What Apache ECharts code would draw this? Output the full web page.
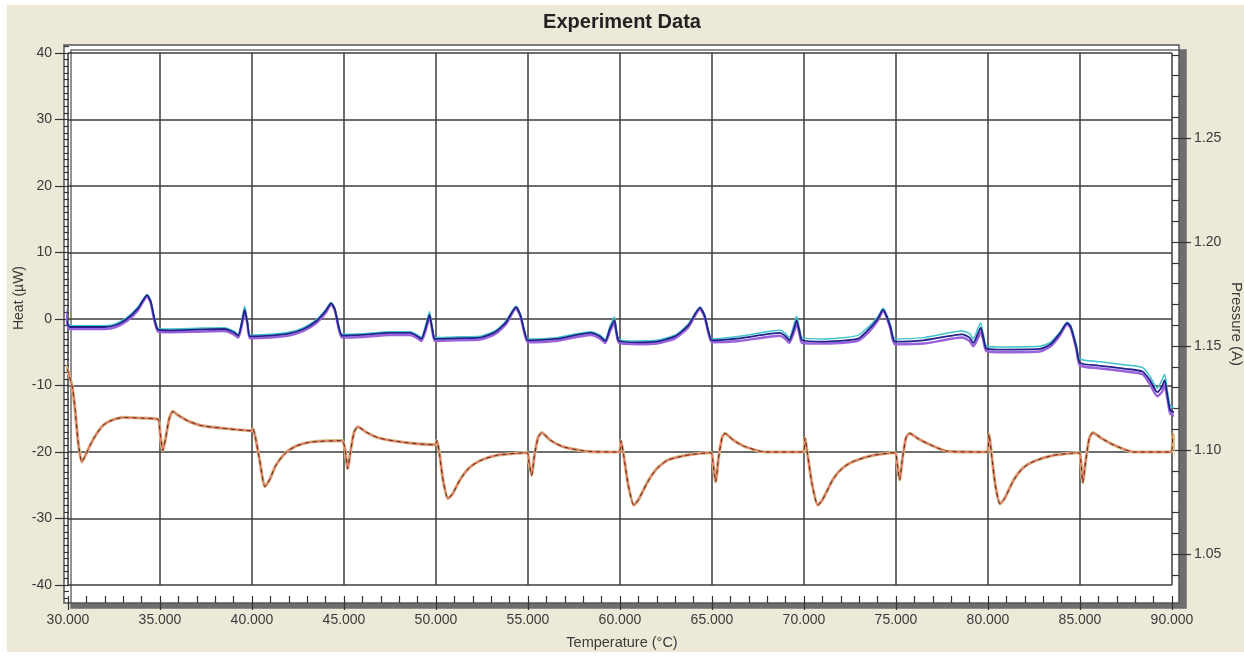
<!DOCTYPE html>
<html><head><meta charset="utf-8">
<script src="https://cdn.jsdelivr.net/npm/echarts@6/dist/echarts.min.js"></script>
<style>html,body{margin:0;padding:0;background:#fff;}#c{width:1244px;height:656px;}</style>
</head><body><div id="c"></div>
<script>
// ---------- tick labels ----------
const tempTicks = [30, 35, 40, 45, 50, 55, 60, 65, 70, 75, 80, 85, 90];
const heatTicks = [-40, -30, -20, -10, 0, 10, 20, 30, 40];
const pressureTicks = [1.05, 1.10, 1.15, 1.20, 1.25];

// ---------- upper group (three overlapping runs) ----------
const upperT = [
  29.75,29.85,29.95,30.1,31,32,32.6,33.2,33.8,34.3,34.5,34.7,34.9,35.5,37,38.5,39.0,39.25,39.45,39.6,39.75,39.9,
  41,42,42.8,43.5,44,44.3,44.5,44.7,44.9,46,47.5,48.6,49.0,49.2,49.45,49.65,49.8,49.95,
  51,52.4,53.2,53.8,54.35,54.6,54.8,55.0,56.5,58.4,58.9,59.2,59.45,59.7,59.8,59.95,
  61,62,63,63.7,64.35,64.6,64.8,65.0,66.5,68.7,69.0,69.2,69.45,69.6,69.75,69.9,
  71,72.9,73.5,74,74.3,74.5,74.7,74.95,76.5,78.6,79.0,79.2,79.45,79.6,79.75,79.9,
  80.5,82.8,83.4,83.9,84.3,84.5,84.8,85.0,86,87.5,88.4,88.8,89.2,89.45,89.6,89.75,89.9,90.1,90.35
];
const heatNavy = [
  3.2,1.5,-0.5,-1.2,-1.2,-1.2,-0.9,0,1.6,3.6,2.6,0,-1.6,-1.7,-1.6,-1.5,-2.0,-2.5,-0.5,1.4,-0.5,-2.6,
  -2.5,-2.2,-1.5,-0.3,1.2,2.4,1.5,-1,-2.5,-2.4,-2.1,-2.1,-2.6,-3.0,-1.2,0.6,-1.5,-3.0,
  -2.9,-2.8,-2,-0.5,1.8,0.5,-1.8,-3.2,-3.0,-2.1,-2.6,-3.3,-1.5,-0.2,-1.8,-3.3,
  -3.5,-3.4,-2.6,-1.0,1.7,0.5,-1.8,-3.2,-2.9,-2.1,-2.6,-3.2,-1.5,-0.2,-1.8,-3.2,
  -3.4,-3.0,-1.6,0,1.4,0.4,-1.2,-3.4,-3.2,-2.3,-2.8,-3.6,-2.2,-1.3,-2.8,-4.4,
  -4.6,-4.5,-3.8,-2.2,-0.6,-1.2,-4.2,-6.6,-7.0,-7.5,-7.9,-9.2,-11.0,-10.2,-9.2,-11.5,-13.7,-14.0,-14.5
];
const heatCyan = [
  3.4,1.7,-0.3,-1.0,-1.0,-1.0,-0.7,0.2,1.8,3.7,2.7,0.2,-1.4,-1.5,-1.4,-1.3,-1.8,-2.3,-0.2,1.9,-0.2,-2.4,
  -2.3,-2.0,-1.3,-0.1,1.4,2.5,1.6,-0.8,-2.3,-2.2,-1.9,-1.9,-2.4,-2.8,-0.8,1.1,-1.2,-2.8,
  -2.7,-2.6,-1.8,-0.3,1.9,0.6,-1.6,-3.0,-2.8,-1.9,-2.4,-3.1,-1.1,0.3,-1.5,-3.1,
  -3.3,-3.2,-2.4,-0.8,1.8,0.6,-1.6,-3.0,-2.6,-1.7,-2.2,-2.8,-0.9,0.4,-1.4,-2.8,
  -3.0,-2.5,-1.2,0.3,1.6,0.6,-0.9,-3.0,-2.8,-1.8,-2.2,-3.0,-1.4,-0.6,-2.3,-4.0,
  -4.2,-4.1,-3.5,-2.0,-0.5,-1.0,-3.8,-6.0,-6.4,-6.9,-7.3,-8.6,-10.4,-9.2,-8.3,-10.8,-13.0,-13.4,-14.0
];
const heatViolet = [
  3.0,1.3,-0.8,-1.5,-1.5,-1.5,-1.2,-0.3,1.3,3.4,2.4,-0.3,-1.9,-2.0,-1.9,-1.8,-2.3,-2.8,-0.9,1.1,-0.8,-2.9,
  -2.8,-2.5,-1.8,-0.6,0.9,2.2,1.3,-1.3,-2.8,-2.7,-2.4,-2.4,-2.9,-3.3,-1.6,0.3,-1.8,-3.3,
  -3.2,-3.1,-2.3,-0.8,1.6,0.3,-2.1,-3.5,-3.3,-2.4,-2.9,-3.6,-1.9,-0.6,-2.1,-3.6,
  -3.8,-3.7,-2.9,-1.3,1.5,0.3,-2.1,-3.5,-3.3,-2.5,-3.0,-3.6,-2.0,-0.8,-2.2,-3.6,
  -3.7,-3.3,-2.0,-0.3,1.2,0.2,-1.5,-3.8,-3.7,-2.8,-3.3,-4.1,-2.9,-2.0,-3.2,-4.8,
  -5.0,-4.9,-4.1,-2.5,-0.8,-1.4,-4.5,-7.0,-7.4,-7.9,-8.3,-9.8,-11.6,-11.0,-10.0,-12.0,-14.2,-14.5,-15.0
];

// ---------- lower group (overlapping runs, drawn in three styles) ----------
const lowerT = [
  29.75,29.95,30.1,30.25,30.4,30.55,30.75,30.95,31.2,31.5,31.9,32.4,33,34,34.9,
  35.0,35.15,35.3,35.5,35.7,36,36.5,37.2,38.3,39.95,
  40.05,40.2,40.4,40.7,40.95,41.3,41.8,42.4,43.2,44.9,
  45.05,45.2,45.35,45.55,45.75,46.2,46.9,48.4,49.95,
  50.05,50.2,50.4,50.65,50.9,51.3,51.8,52.4,53.3,54.95,
  55.05,55.2,55.35,55.55,55.75,56.2,56.9,58.2,59.95,
  60.05,60.2,60.45,60.75,61.0,61.5,62.0,62.6,63.8,64.95,
  65.05,65.2,65.35,65.55,65.7,66.2,66.8,67.9,69.95,
  70.05,70.2,70.45,70.75,71.0,71.6,72.1,72.7,73.75,74.95,
  75.05,75.2,75.35,75.55,75.75,76.2,76.85,77.8,79.95,
  80.05,80.2,80.4,80.65,80.9,81.4,81.9,82.5,83.55,84.95,
  85.05,85.15,85.3,85.5,85.7,86.2,86.8,87.9,89.95,
  90.05,90.15,90.3
];
const heatLower = [
  -6.5,-7.5,-8.8,-10.5,-14,-18.5,-21.5,-20.5,-19,-17.5,-16,-15.2,-14.8,-14.9,-15.1,
  -17,-19.8,-18,-15,-13.9,-14.5,-15.3,-16,-16.4,-16.8,
  -16.5,-18,-21,-25.2,-24.2,-22,-20.2,-19.1,-18.5,-18.3,
  -19.5,-22.5,-20,-17,-16.2,-17,-17.9,-18.6,-18.9,
  -18.3,-20.5,-24.5,-27,-26.3,-24.2,-22.4,-21.3,-20.5,-20.1,
  -21.5,-23.5,-20.5,-17.8,-17.1,-18.2,-19.2,-19.9,-20,
  -18.3,-20.5,-25,-28,-27.2,-24.5,-22.5,-21.2,-20.4,-20.1,
  -21.5,-24.5,-21,-17.8,-17.2,-18.3,-19.2,-20,-20,
  -17.9,-20.5,-25,-28,-27.2,-24,-22.4,-21.4,-20.5,-20.1,
  -21.5,-24.2,-21,-17.8,-17.2,-18,-18.9,-19.9,-20,
  -17.3,-20.5,-25,-27.8,-27,-24.2,-22.4,-21.4,-20.5,-20.1,
  -21.5,-24.6,-21.5,-18,-17.1,-18,-18.9,-20,-20,
  -17.3,-18.5,-23.1
];

const FONT = '"Liberation Sans", Arial, sans-serif';
const TXT = '#3a3a3a';
const TICK = {color: '#333', width: 1.2};
const pairs = (xs, ys) => xs.map((x, i) => [x, ys[i]]);
const hx = g => ({type: 'value', gridIndex: g, min: 0, max: 1, show: false});
const hy = g => ({type: 'value', gridIndex: g, min: 0, max: 1, show: false});
const first = a => a[0], last = a => a[a.length - 1];
const noLine = {show: false, onZero: false};

function line(name, xs, ys, color, width, type, z) {
  return {
    name, type: 'line', xAxisIndex: 1, yAxisIndex: 1, clip: false,
    data: pairs(xs, ys), showSymbol: false, symbol: 'none', smooth: 0.2, z,
    lineStyle: {color, width, type: type || 'solid'}
  };
}

const chart = echarts.init(document.getElementById('c'), null, {renderer: 'canvas'});
chart.setOption({
  animation: false,
  backgroundColor: '#ECE9D8',
  textStyle: {fontFamily: FONT},
  title: {text: 'Experiment Data', left: 'center', top: 12, padding: 0,
    textStyle: {fontFamily: FONT, fontSize: 20, fontWeight: 'bold', color: '#222'}},
  graphic: [
    {type: 'rect', left: 0, top: 0, shape: {width: 1244, height: 5}, style: {fill: '#fff'}, silent: true},
    {type: 'rect', left: 0, top: 0, shape: {width: 7, height: 656}, style: {fill: '#fff'}, silent: true},
    {type: 'rect', left: 0, top: 652, shape: {width: 1244, height: 4}, style: {fill: '#fff'}, silent: true},
    {type: 'text', x: 19, y: 298, rotation: Math.PI / 2,
      style: {text: 'Heat (µW)', fontFamily: FONT, fontSize: 14, fill: TXT, align: 'center', verticalAlign: 'middle'}},
    {type: 'text', x: 1236, y: 324, rotation: -Math.PI / 2,
      style: {text: 'Pressure (A)', fontFamily: FONT, fontSize: 15, fill: TXT, align: 'center', verticalAlign: 'middle'}},
    {type: 'text', x: 622, y: 643,
      style: {text: 'Temperature (°C)', fontFamily: FONT, fontSize: 14.5, fill: TXT, align: 'center', verticalAlign: 'middle'}}
  ],
  grid: [
    {left: 64, right: 65, top: 45, bottom: 53, show: true, backgroundColor: '#fff', borderColor: '#555', borderWidth: 1.5,
      shadowColor: '#6e6e6e', shadowOffsetX: 7, shadowOffsetY: 5, shadowBlur: 0},
    {left: 68, right: 72, top: 53, bottom: 71},
    {left: 68, right: 72, top: 45, bottom: 53},
    {left: 64, right: 65, top: 53, bottom: 71},
    {left: 64, right: 65, top: 46.35, bottom: 57.7},
    {left: 64, right: 65, top: 54.8, bottom: 81.2},
    {left: 64, right: 65, top: 138, bottom: 102}
  ],
  xAxis: [
    hx(0),
    {type: 'value', gridIndex: 1, min: first(tempTicks), max: last(tempTicks), interval: tempTicks[1] - tempTicks[0],
      axisLine: noLine, axisTick: {show: false}, axisLabel: {show: false},
      splitLine: {show: true, lineStyle: {color: '#3c3c3c', width: 1.5}}},
    {type: 'value', gridIndex: 2, position: 'bottom', min: first(tempTicks), max: last(tempTicks), interval: tempTicks[1] - tempTicks[0],
      axisLine: noLine, axisTick: {show: true, length: 7, lineStyle: TICK},
      axisLabel: {show: true, margin: 10, fontSize: 14, color: TXT, fontFamily: FONT, formatter: v => v.toFixed(3)},
      splitLine: {show: false}},
    {type: 'value', gridIndex: 2, position: 'bottom', min: first(tempTicks), max: last(tempTicks), interval: 1,
      axisLine: noLine, axisTick: {show: true, inside: true, length: 7, lineStyle: TICK},
      axisLabel: {show: false}, splitLine: {show: false}},
    hx(3), hx(4), hx(5), hx(6)
  ],
  yAxis: [
    hy(0),
    {type: 'value', gridIndex: 1, min: first(heatTicks), max: last(heatTicks), interval: heatTicks[1] - heatTicks[0],
      axisLine: noLine, axisTick: {show: false}, axisLabel: {show: false},
      splitLine: {show: true, lineStyle: {color: '#3c3c3c', width: 1.5}}},
    hy(2),
    {type: 'value', gridIndex: 3, position: 'left', min: first(heatTicks), max: last(heatTicks), interval: heatTicks[1] - heatTicks[0],
      axisLine: noLine, axisTick: {show: true, length: 9, lineStyle: TICK},
      axisLabel: {show: true, margin: 12, fontSize: 14, color: TXT, fontFamily: FONT},
      splitLine: {show: false}},
    {type: 'value', gridIndex: 4, position: 'left', min: -42, max: 41, interval: 1,
      axisLine: noLine, axisTick: {show: true, inside: true, length: 5, lineStyle: TICK},
      axisLabel: {show: false}, splitLine: {show: false}},
    {type: 'value', gridIndex: 5, position: 'right', min: 1.04, max: 1.29, interval: 0.01,
      axisLine: noLine, axisTick: {show: true, inside: true, length: 7, lineStyle: TICK},
      axisLabel: {show: false}, splitLine: {show: false}},
    {type: 'value', gridIndex: 6, position: 'right', min: first(pressureTicks), max: last(pressureTicks),
      interval: +(pressureTicks[1] - pressureTicks[0]).toFixed(2),
      axisLine: noLine, axisTick: {show: true, length: 12, lineStyle: TICK},
      axisLabel: {show: true, margin: 15, fontSize: 14, color: TXT, fontFamily: FONT, formatter: v => v.toFixed(2)},
      splitLine: {show: false}}
  ],
  series: [
    line('Run C (heat)', lowerT, heatLower, '#cfc682', 3.2, 'solid', 2),
    line('Run B (heat)', lowerT, heatLower, '#e47f72', 2, 'solid', 3),
    line('Run A (heat)', lowerT, heatLower, '#5a2612', 1, [4, 4], 4),
    line('Run C', upperT, heatViolet, '#9a62dc', 2.5, 'solid', 5),
    line('Run B', upperT, heatCyan, '#3fc4cc', 1.5, 'solid', 6),
    line('Run A', upperT, heatNavy, '#22228a', 1.8, 'solid', 7)
  ]
});
</script></body></html>
